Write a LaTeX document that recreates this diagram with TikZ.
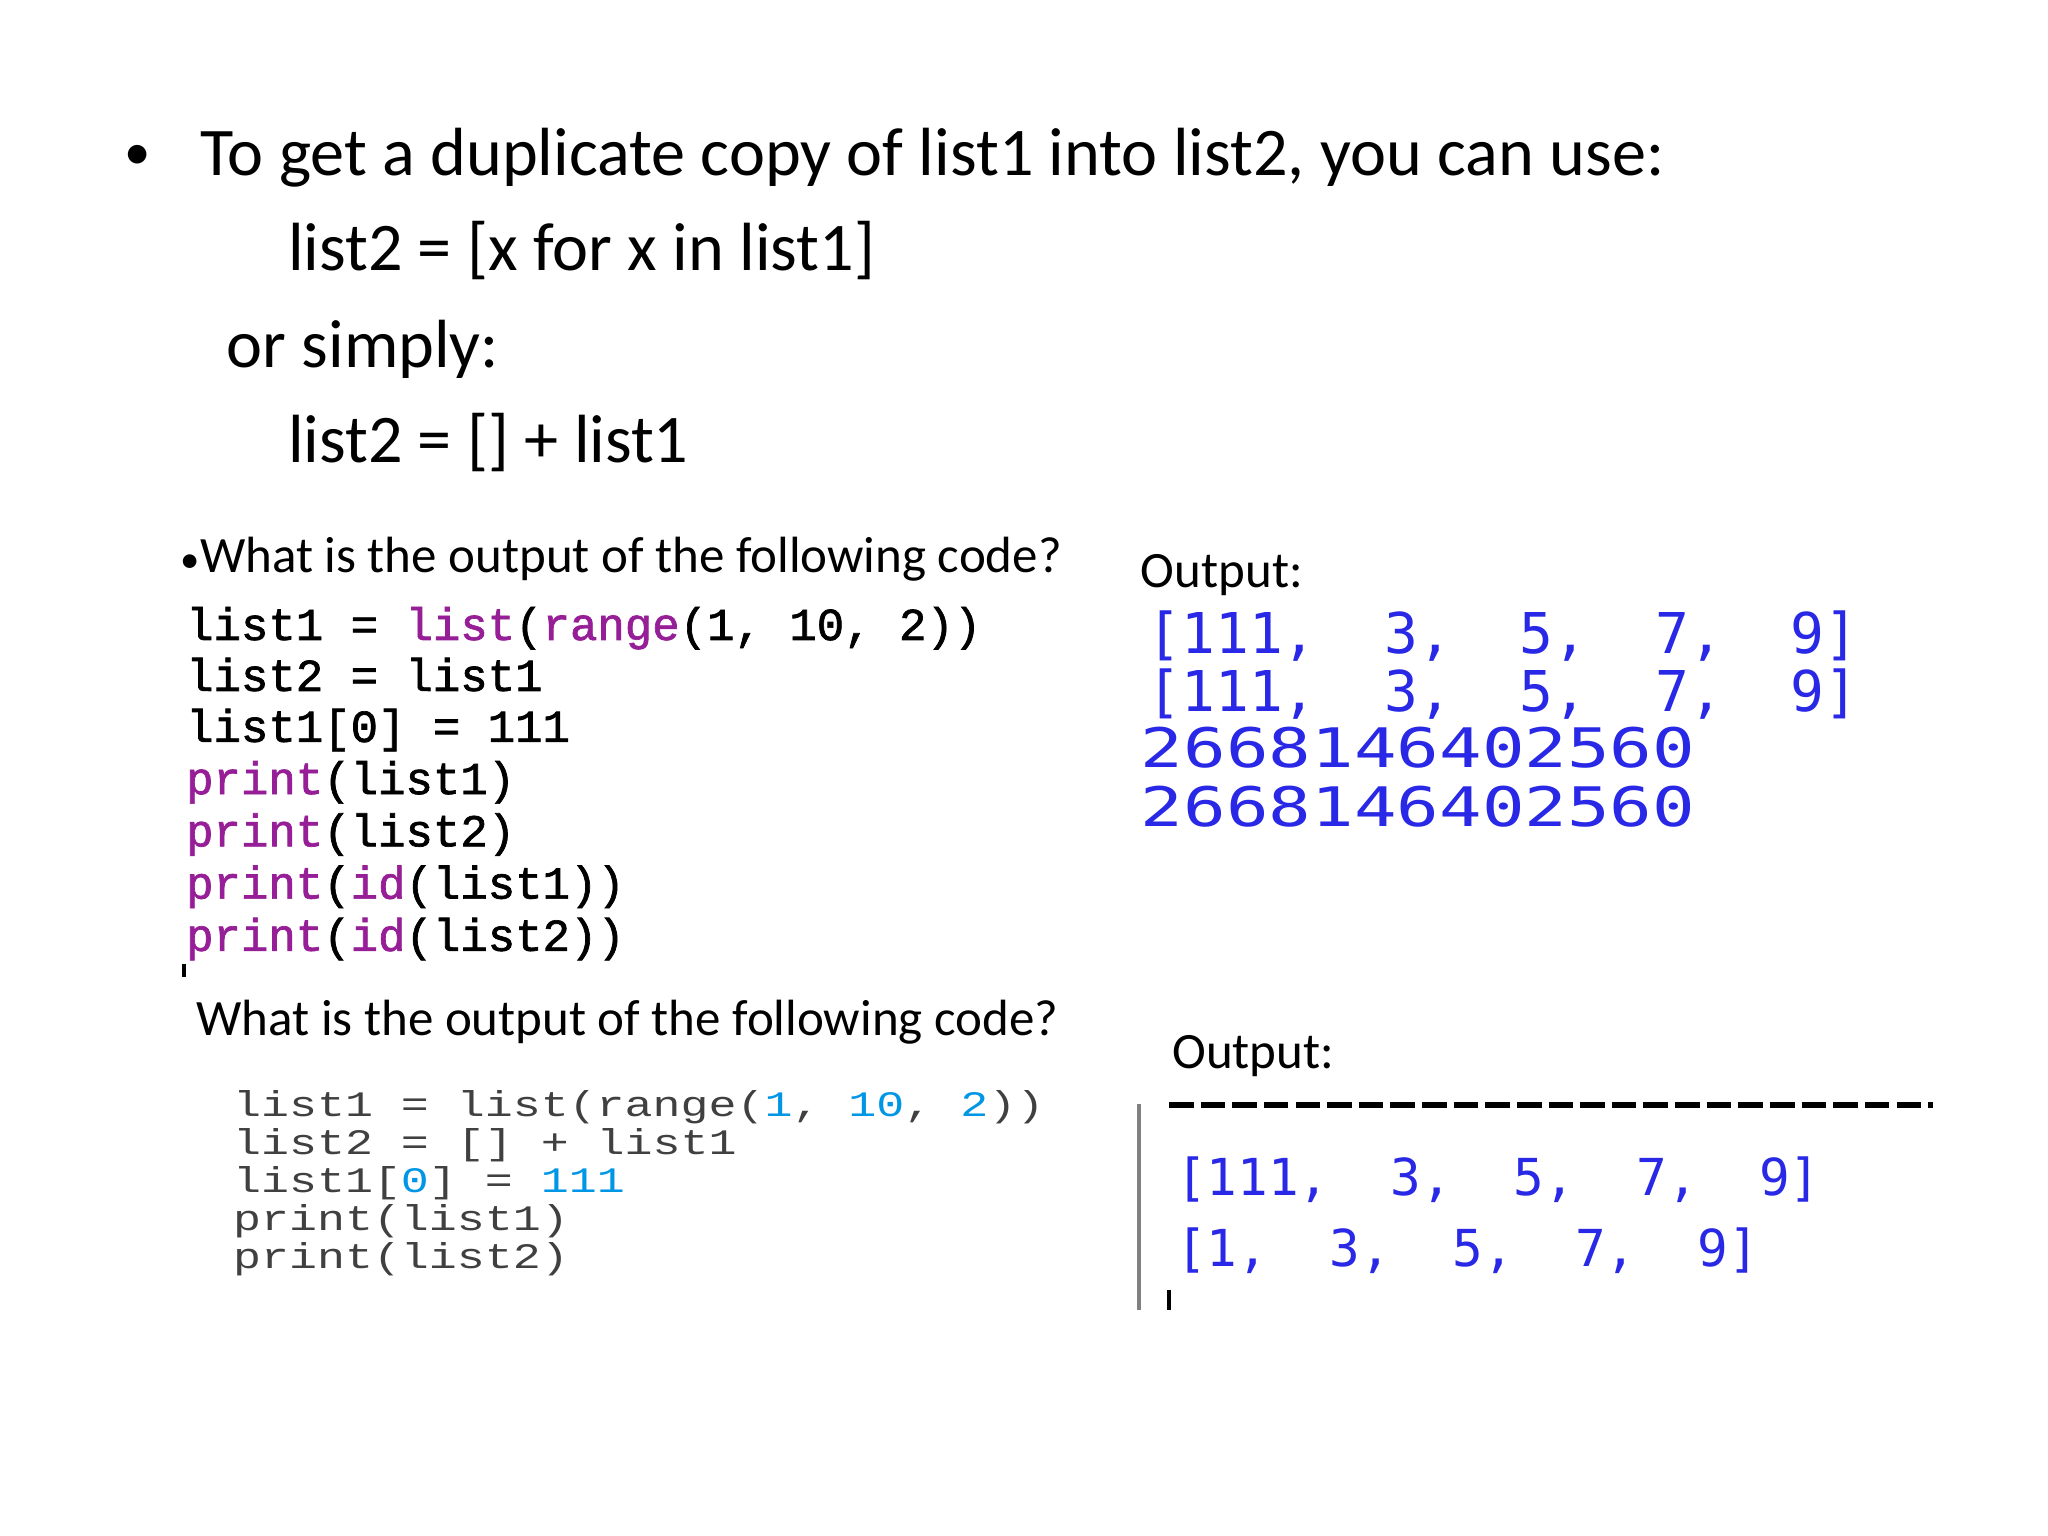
\documentclass[tikz,border=0pt]{standalone}
\usepackage{fontspec}
\setmainfont{Carlito}
\newfontfamily\codefont{Liberation Mono}[FakeBold=1.5]
\newfontfamily\codefontB{Liberation Mono}[FakeStretch=1.3]
\newfontfamily\outfont{DejaVu Sans Mono}
\newfontfamily\outfontW{DejaVu Sans Mono}[FakeStretch=1.3]
\definecolor{kw}{RGB}{150,30,150}
\definecolor{outblue}{RGB}{40,40,230}
\definecolor{numc}{RGB}{0,150,230}
\tikzset{
 txt/.style={anchor=base west,inner sep=0pt},
 big/.style={txt,font=\fontsize{19.4pt}{24pt}\selectfont},
 mid/.style={txt,font=\fontsize{14.5pt}{17pt}\selectfont},
 codeA/.style={txt,font=\codefont\fontsize{13pt}{14pt}\selectfont},
 codeB/.style={txt,font=\codefontB\fontsize{10.2pt}{12pt}\selectfont,text=black!75},
 outA/.style={txt,font=\outfont\fontsize{16pt}{18pt}\selectfont,text=outblue},
 outN/.style={txt,font=\outfontW\fontsize{15.5pt}{18pt}\selectfont,text=outblue},
 outB/.style={txt,font=\outfont\fontsize{14.5pt}{18pt}\selectfont,text=outblue},
}
\begin{document}
\begin{tikzpicture}[x=0.01306cm,y=-0.01306cm]
\useasboundingbox[fill=white] (0,0) rectangle (1568,1176);
\node[big,font=\fontsize{15pt}{18pt}\selectfont] (b) at (95,130) {•};
\node[big] (t1) at (153,134) {To get a duplicate copy of list1 into list2, you can use:};
\node[big] (t2) at (220,207) {list2 = [x for x in list1]};
\node[big] (t3) at (173,281) {or simply:};
\node[big] (t4) at (220,354) {list2 = [] + list1};
\node[mid] (q1) at (138,438) {\fontsize{11pt}{12pt}\selectfont•\fontsize{14.5pt}{17pt}\selectfont What is the output of the following code?};
\node[mid] (o1) at (873,450) {Output:};
\node[codeA] (c1) at (142,490) {list1 = \textcolor{kw}{list}(\textcolor{kw}{range}(1, 10, 2))};
\node[codeA] (c2) at (142,529) {list2 = list1};
\node[codeA] (c3) at (142,568) {list1[0] = 111};
\node[codeA] (c4) at (142,608) {\textcolor{kw}{print}(list1)};
\node[codeA] (c5) at (142,648) {\textcolor{kw}{print}(list2)};
\node[codeA] (c6) at (142,688) {\textcolor{kw}{print}(\textcolor{kw}{id}(list1))};
\node[codeA] (c7) at (142,728) {\textcolor{kw}{print}(\textcolor{kw}{id}(list2))};
\draw[line width=1pt] (141,738) -- (141,748);
\node[outA] (r1) at (878,500) {[111,\ \ 3,\ \ 5,\ \ 7,\ \ 9]};
\node[outA] (r2) at (878,545) {[111,\ \ 3,\ \ 5,\ \ 7,\ \ 9]};
\node[outN] (r3) at (873,588) {2668146402560};
\node[outN] (r4) at (873,633) {2668146402560};
\node[mid] (q2) at (150,793) {What is the output of the following code?};
\node[mid] (o2) at (897,818) {Output:};
\node[codeB] (d1) at (178,855) {list1 = list(range(\textcolor{numc}{1}, \textcolor{numc}{10}, \textcolor{numc}{2}))};
\node[codeB] (d2) at (178,884) {list2 = [] + list1};
\node[codeB] (d3) at (178,913) {list1[\textcolor{numc}{0}] = \textcolor{numc}{111}};
\node[codeB] (d4) at (178,942) {print(list1)};
\node[codeB] (d5) at (178,971) {print(list2)};
\draw[line width=1.5pt,dash pattern=on 7pt off 2pt] (895,846) -- (1480,846);
\draw[gray,line width=1.2pt] (872,845) -- (872,1003);
\draw[line width=1.2pt] (895,988) -- (895,1003);
\node[outB] (s1) at (900,915) {[111,\ \ 3,\ \ 5,\ \ 7,\ \ 9]};
\node[outB] (s2) at (900,970) {[1,\ \ 3,\ \ 5,\ \ 7,\ \ 9]};
\end{tikzpicture}
\end{document}
